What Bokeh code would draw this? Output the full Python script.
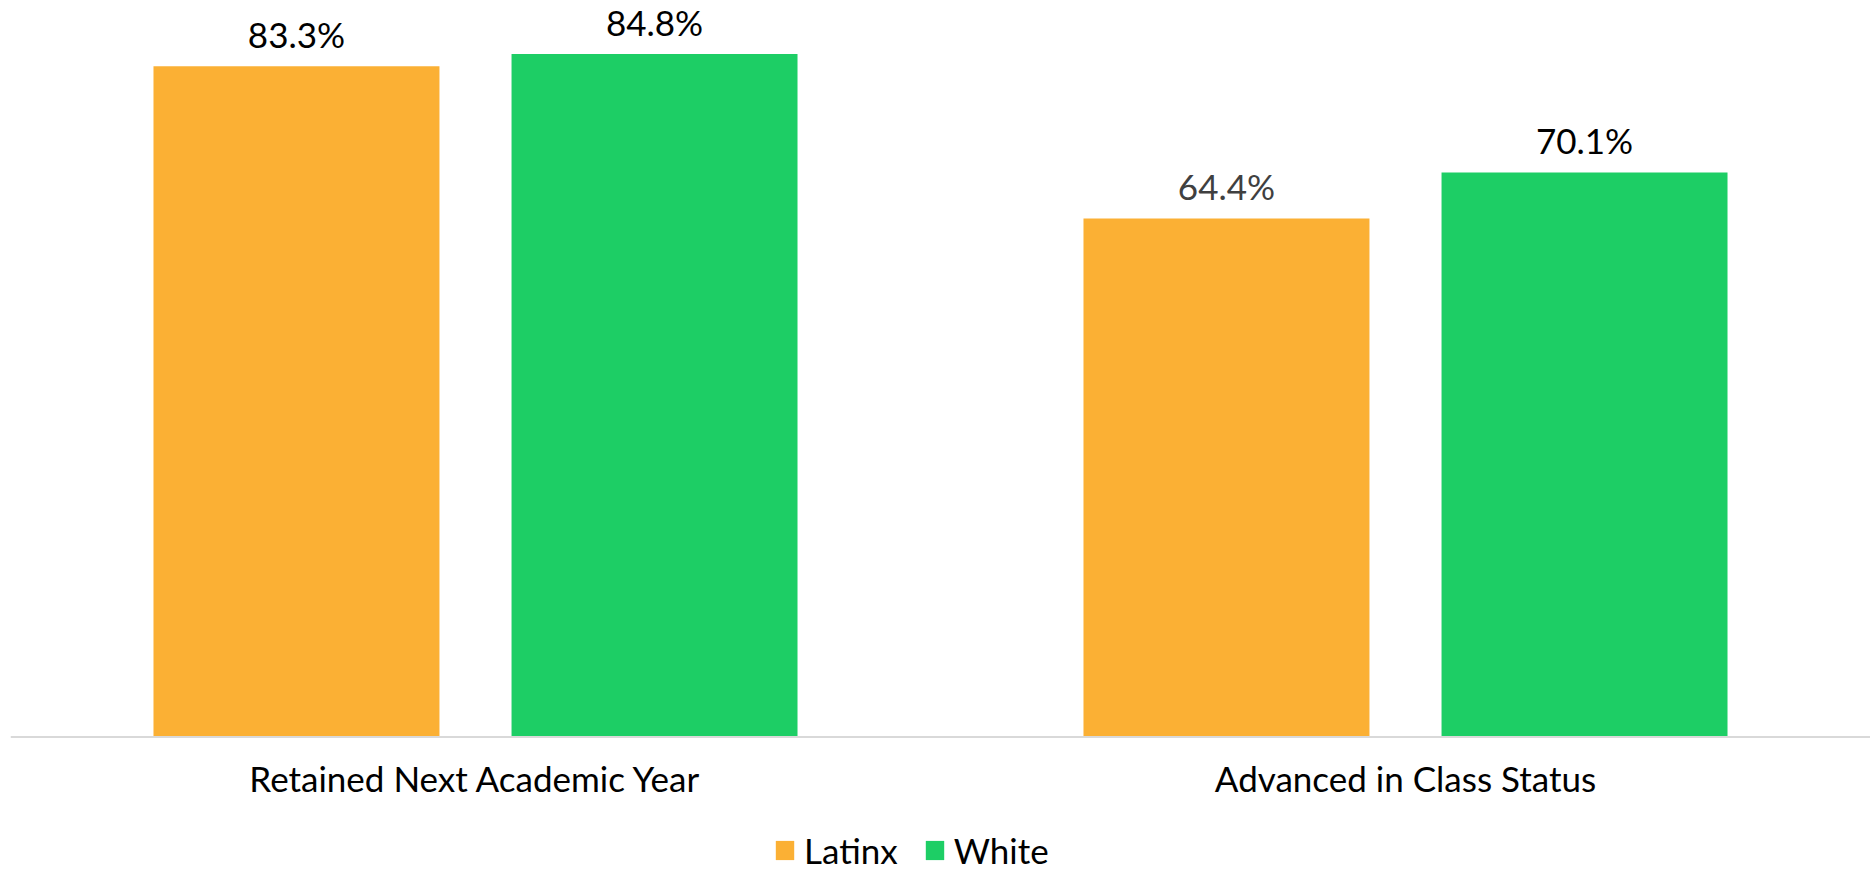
from bokeh.plotting import figure
from bokeh.models import FactorRange, Range1d, Legend, LegendItem, ColumnDataSource, Span
from bokeh.transform import dodge
from bokeh.core.properties import value
from bokeh.embed import file_html
from bokeh.resources import INLINE

categories = ["Retained Next Academic Year", "Advanced in Class Status"]
groups = ["Latinx", "White"]
latinx = [83.3, 64.4]
white = [84.8, 70.1]
latinx_label_colors = ["#000000", "#404040"]
white_label_colors = ["#000000", "#000000"]
bar_colors = ["#FBB034", "#1DCE65"]

FONT = "Lato"
FS = "35px"

src = ColumnDataSource(dict(
    cat=categories,
    zero=[0] * len(categories),
    latinx=latinx,
    white=white,
    latinx_lbl=[f"{v:.1f}%" for v in latinx],
    white_lbl=[f"{v:.1f}%" for v in white],
    lc=latinx_label_colors,
    wc=white_label_colors,
))

W, H = 1870, 871
px_per_unit = 8.053
baseline_px = 736.5  # distance of zero line from top
p = figure(
    x_range=FactorRange(*categories),
    y_range=Range1d(-(H - baseline_px) / px_per_unit, baseline_px / px_per_unit),
    frame_width=W - 10, frame_height=H,
    output_backend="svg", toolbar_location=None,
    min_border_left=10, min_border_right=0, min_border_top=0, min_border_bottom=0,
    x_axis_location=None, y_axis_location=None,
)
p.outline_line_color = None
p.xgrid.grid_line_color = None
p.ygrid.grid_line_color = None

off = 0.1925
w = 0.3075
r1 = p.vbar(x=dodge("cat", -off, range=p.x_range), top="latinx", width=w, source=src,
            fill_color=bar_colors[0], line_color=None)
r2 = p.vbar(x=dodge("cat", off, range=p.x_range), top="white", width=w, source=src,
            fill_color=bar_colors[1], line_color=None)

# category axis line at zero
p.add_layout(Span(location=0, dimension="width", line_color="#D9D9D9", line_width=2))

# value labels
p.text(x=dodge("cat", -off, range=p.x_range), y="latinx", text="latinx_lbl", source=src,
       text_align="center", text_baseline="alphabetic", y_offset=-32.5,
       text_font=value(FONT), text_font_size=FS, text_color="lc")
p.text(x=dodge("cat", off, range=p.x_range), y="white", text="white_lbl", source=src,
       text_align="center", text_baseline="alphabetic", y_offset=-32.5,
       text_font=value(FONT), text_font_size=FS, text_color="wc")

# category labels under the zero line
p.text(x="cat", y="zero", text="cat", source=src,
       text_align="center", text_baseline="alphabetic", y_offset=41,
       text_font=value(FONT), text_font_size=FS, text_color="#000000")

legend = Legend(items=[LegendItem(label=groups[0], renderers=[r1]),
                       LegendItem(label=groups[1], renderers=[r2])],
                orientation="horizontal", location=(763, 0),
                glyph_width=23, glyph_height=24, label_standoff=8, spacing=25,
                label_text_font=FONT, label_text_font_size=FS, label_text_color="#000000",
                border_line_color=None, background_fill_alpha=0, padding=0, margin=0)
p.add_layout(legend, "center")

open("out.html", "w").write(file_html(p, INLINE))
